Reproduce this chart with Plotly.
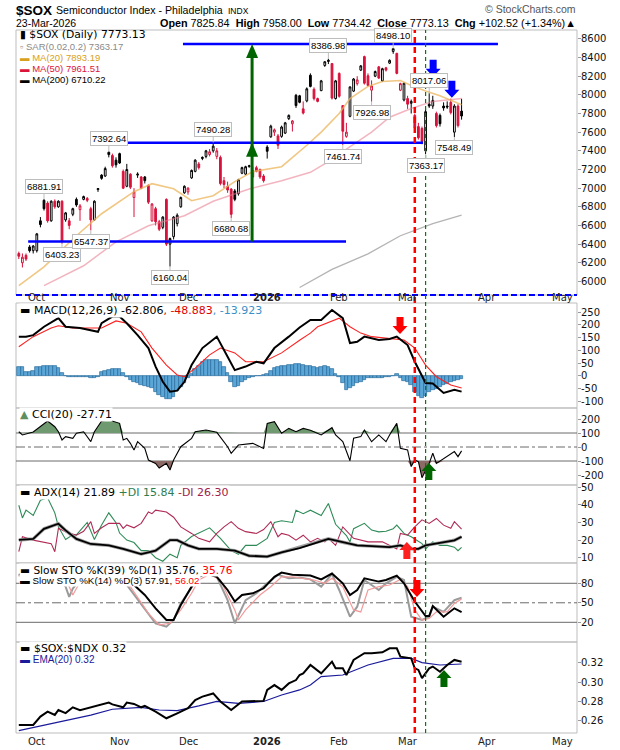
import plotly.graph_objects as go

# ---------------------------------------------------------------------------
# DATA   (x = trading-day index: 0 = 24-Sep-2025 ... 123 = 23-Mar-2026)
# ---------------------------------------------------------------------------
opens = [6300, 6200, 6280, 6370, 6330, 6330, 6650, 6870, 6840, 6650,
         6860, 6800, 6860, 6660, 6650, 6720, 6880, 6770, 6880, 6890,
         6780, 6660, 6985, 7140, 7130, 7385, 7350, 7300, 7370, 7180,
         7020, 7150, 6900, 7140, 7120, 7120, 7030, 6650, 6780, 6640,
         6580, 6880, 6400, 6480, 6620, 6800, 6950, 6960, 7110, 7180,
         7260, 7330, 7340, 7360, 7400, 7340, 7330, 7080, 7020, 6990,
         6970, 6940, 7160, 7150, 7230, 7120, 7220, 7200, 7130, 7440,
         7550, 7600, 7560, 7555, 7590, 7745, 7690, 7995, 7990, 7850,
         7935, 8210, 8060, 7960, 8045, 8315, 8370, 8335, 7960, 8230,
         7885, 7555, 7770, 8040, 8120, 8265, 8410, 8205, 8050, 8200,
         8300, 8150, 8290, 8340, 8465, 8445, 8050, 7945, 7960, 7910,
         7780, 7660, 7640, 7400, 7900, 7880, 7800, 7780, 7880, 7880,
         7920, 7600, 7880, 7825.84]
highs = [6320, 6300, 6300, 6390, 6390, 6520, 6690, 6881.91, 6860, 6870,
         6880, 6870, 6870, 6745, 6680, 6790, 6900, 6830, 6920, 6905,
         6800, 6870, 7000, 7150, 7230, 7392.64, 7370, 7330, 7380, 7200,
         7260, 7160, 7000, 7170, 7130, 7130, 7040, 6840, 6800, 6660,
         6700, 6890, 6470, 6700, 6730, 6910, 7030, 7010, 7200, 7310,
         7280, 7340, 7410, 7420, 7490.28, 7430, 7350, 7120, 7070, 7000,
         6990, 7100, 7230, 7240, 7250, 7230, 7240, 7210, 7150, 7460,
         7680, 7640, 7580, 7670, 7710, 7790, 7730, 8010, 8000, 7930,
         8080, 8230, 8080, 7970, 8160, 8360, 8386.98, 8340, 8160, 8240,
         7890, 7700, 8090, 8180, 8200, 8320, 8420, 8230, 8155, 8260,
         8310, 8290, 8300, 8380, 8498.10, 8450, 8130, 8130, 7990, 7950,
         7800, 7700, 7660, 7850, 8017.06, 7990, 7820, 7800, 7920, 7930,
         7960, 7900, 7900, 7958.00]
lows = [6240, 6150, 6220, 6310, 6300, 6310, 6580, 6760, 6630, 6640,
        6780, 6790, 6403.23, 6640, 6560, 6700, 6800, 6650, 6870, 6850,
        6547.37, 6650, 6960, 7090, 7120, 7330, 7220, 7220, 7260, 6990,
        7010, 6990, 6690, 7110, 6990, 7050, 6830, 6640, 6600, 6540,
        6560, 6380, 6160.04, 6450, 6590, 6790, 6940, 6930, 7100, 7170,
        7200, 7300, 7320, 7340, 7380, 7310, 7030, 7000, 6950, 6680.68,
        6860, 6920, 7150, 7140, 7220, 7110, 7170, 7100, 7060, 7317,
        7540, 7560, 7420, 7540, 7580, 7730, 7607, 7860, 7910, 7790,
        7920, 8080, 7940, 7920, 8040, 8300, 8330, 7950, 7950, 7970,
        7461.74, 7540, 7760, 8030, 8100, 8255, 8110, 8090, 7926.98, 8190,
        8170, 8140, 8250, 8330, 8440, 8220, 8040, 7930, 7850, 7800,
        7600, 7520, 7470, 7363.17, 7860, 7850, 7650, 7660, 7830, 7850,
        7790, 7548.49, 7650, 7734.42]
closes = [6270, 6260, 6240, 6330, 6380, 6510, 6610, 6780, 6650, 6860,
          6800, 6860, 6430, 6735, 6600, 6780, 6820, 6810, 6910, 6870,
          6660, 6860, 6995, 7105, 7210, 7360, 7240, 7250, 7270, 7000,
          7200, 7010, 6960, 7150, 7000, 7080, 6850, 6830, 6640, 6560,
          6690, 6400, 6460, 6690, 6710, 6900, 7020, 7000, 7190, 7300,
          7220, 7320, 7400, 7390, 7450, 7400, 7050, 7040, 6980, 6720,
          6880, 7090, 7220, 7230, 7240, 7190, 7180, 7120, 7080, 7395,
          7665, 7625, 7460, 7655, 7700, 7780, 7720, 7885, 7920, 7805,
          8065, 8090, 7960, 7930, 8150, 8355, 8360, 7965, 8150, 7985,
          7610, 7600, 8085, 8170, 8160, 8310, 8125, 8100, 8095, 8250,
          8180, 8280, 8265, 8370, 8495, 8230, 8120, 8125, 7900, 7930,
          7650, 7540, 7500, 7820, 7880, 7940, 7670, 7690, 7860, 7870,
          7810, 7880, 7670.61, 7773.13]
prior_close = 6290

ma20_day = [0, 7, 16, 23, 32, 37, 43, 48, 54, 60, 65, 73, 80, 84, 89, 92, 97, 101, 106, 109, 113, 117, 123]
ma20_val = [5955, 6157, 6490, 6726, 6962, 7048, 6994, 6866, 6919, 7070, 7177, 7230, 7460, 7600, 7800,
            7961, 8090, 8143, 8154, 8100, 8040, 7990, 7893.19]
ma50_day = [7, 18, 27, 36, 46, 54, 64, 73, 81, 86, 90, 98, 103, 109, 115, 123]
ma50_val = [5955, 6168, 6425, 6597, 6705, 6860, 6990, 7080, 7170, 7284, 7392, 7600, 7760, 7854, 7930, 7961.51]
ma200_day = [78, 87, 97, 106, 115, 123]
ma200_val = [5935, 6130, 6296, 6490, 6620, 6710.22]

macd_day = [0, 2, 4, 7, 11, 13, 17, 20, 22, 23, 26, 28, 30, 33, 36, 38, 40, 42, 44, 46, 48, 51, 55, 58,
            60, 63, 66, 68, 71, 75, 78, 81, 84, 87, 90, 92, 94, 96, 100, 103, 105, 108, 110, 113, 115,
            118, 121, 123]
macd_val = [154, 154, 160, 193, 227, 193, 188, 180, 173, 207, 233, 233, 207, 160, 109, 36, -24, -63, -59,
            -24, 42, 109, 154, 75, 22, 36, 55, 49, 109, 154, 190, 220, 220, 259, 227, 129, 134, 154, 141,
            145, 154, 121, 55, -29, -31, -68, -56, -62.806]
signal_day = [0, 4, 9, 11, 15, 20, 23, 27, 30, 34, 37, 41, 44, 46, 49, 53, 56, 60, 63, 68, 73, 78, 81,
              83, 89, 92, 95, 98, 103, 107, 110, 113, 116, 120, 123]
signal_val = [114, 154, 188, 197, 188, 188, 188, 216, 207, 173, 109, 42, 3, -4, 30, 82, 109, 90, 55, 55,
              90, 140, 168, 193, 227, 193, 168, 154, 148, 141, 109, 42, -4, -37, -48.883]
hist_val = [35, 35, 15, 15, 18, 33, 35, 37, 38, 38, 37, 30, 10, -3, -5, -6, -6, -7, -6, -6,
            -8, -10, -5, 15, 20, 22, 28, 28, 26, 10, -5, -15, -25, -30, -35, -40, -45, -50, -65, -75,
            -85, -90, -92, -85, -60, -45, -30, -10, 5, 25, 40, 55, 60, 62, 62, 60, 55, 35, 10, -25,
            -45, -40, -25, -15, -10, -5, 0, -3, 2, 5, 20, 30, 35, 38, 40, 42, 42, 45, 45, 42,
            40, 38, 35, 30, 35, 40, 35, 25, 8, -5, -30, -55, -50, -40, -30, -25, -18, -10, -8, -10,
            -10, -8, -5, -5, 0, 5, -10, -20, -25, -35, -65, -80, -88, -80, -65, -58, -52, -45, -38, -32,
            -26, -22, -18, -13.923]

cci_day = [0, 1, 4, 6, 8, 10, 11, 12, 13, 15, 16, 18, 19, 20, 21, 23, 25, 28, 29, 30, 31, 32, 33, 35,
           36, 38, 39, 41, 42, 43, 45, 48, 49, 52, 55, 58, 59, 61, 65, 68, 69, 71, 73, 75, 77, 79, 81,
           84, 87, 88, 90, 92, 93, 95, 96, 98, 100, 102, 103, 105, 106, 108, 109, 110, 111, 112, 114,
           115, 116, 118, 121, 122, 123]
cci_val = [109, 86, 107, 145, 186, 145, 109, 50, 74, 62, 98, 109, 74, 38, 109, 186, 193, 169, 50, 62,
           26, -21, 38, -10, -93, -117, -150, -117, -164, -93, 2, 62, 109, 121, 105, 2, -45, 14, 26,
           -10, 169, 181, 98, 133, 109, 133, 120, 86, 138, 86, 38, -98, 62, 74, 121, 38, 86, 38, 86,
           169, -10, -21, -140, -93, -105, -219, -117, -45, -117, -81, -33, -69, -27.71]

adx_day = [0, 4, 7, 11, 13, 16, 20, 25, 29, 34, 38, 42, 44, 47, 50, 55, 60, 64, 69, 73, 78, 83, 86,
           90, 94, 98, 103, 106, 109, 111, 113, 117, 121, 123]
adx_val = [20.1, 20.7, 26.4, 29.3, 25.5, 20.7, 17.8, 17, 15, 12.1, 14, 20, 20, 17, 15, 15, 14, 11.1,
           10.6, 13, 15.5, 18.8, 20.7, 18.8, 17, 16.6, 16, 17, 15, 15, 17, 18.4, 19.9, 21.89]
pdi_day = [0, 1, 2, 4, 6, 8, 10, 11, 13, 15, 16, 19, 21, 23, 25, 27, 28, 30, 32, 34, 36, 38, 40, 42,
           44, 45, 48, 50, 53, 56, 59, 61, 63, 66, 69, 71, 73, 76, 77, 79, 81, 84, 86, 88, 91, 92, 93,
           96, 98, 100, 102, 104, 105, 107, 109, 112, 113, 115, 117, 119, 121, 122, 123]
pdi_val = [39.8, 32.6, 37, 34, 42.6, 44, 35.5, 27.5, 20.3, 23, 23, 30, 20.3, 28.6, 35.5, 29.9, 24, 20,
           18.6, 14, 14, 10, 8, 12, 10, 17, 22, 24, 27, 21, 14, 12, 17, 17, 21, 30, 31, 30, 37, 35, 37,
           34, 40.8, 29, 22.6, 19, 26.5, 29.5, 25.7, 24.7, 25, 26.5, 28.5, 23.8, 21.9, 18, 15, 19, 17,
           17, 16, 14, 15.84]
mdi_day = [0, 1, 4, 7, 9, 10, 11, 13, 16, 18, 20, 21, 23, 25, 28, 29, 30, 32, 34, 36, 37, 38, 41, 43,
           45, 48, 50, 53, 55, 57, 59, 61, 63, 66, 68, 70, 72, 73, 75, 77, 79, 81, 83, 85, 86, 88, 90,
           93, 97, 101, 105, 106, 108, 110, 112, 114, 116, 118, 120, 121, 123]
mdi_val = [13.4, 21.9, 20, 19, 18, 13.4, 26.7, 24.8, 22.8, 25, 30.5, 23.8, 27, 29.5, 29.5, 26.7, 28.6,
           27, 29.5, 36, 35, 37, 36, 33, 27.5, 23.8, 21, 19, 23.8, 27.5, 30.5, 26.7, 24.8, 23.8, 26,
           30.5, 21.9, 23.8, 22.8, 20, 22.8, 19, 21, 19, 21, 17, 27.5, 21, 19, 19, 15, 23.8, 22.8,
           27.5, 31.5, 29.5, 32.3, 28.5, 26.7, 30.5, 26.3]

sto39_day = [0, 5, 10, 15, 20, 25, 30, 35, 38, 41, 43, 45, 48, 50, 52, 55, 58, 60, 62, 65, 68, 71, 73,
             76, 78, 81, 84, 87, 90, 92, 94, 96, 100, 102, 105, 107, 110, 113, 114, 115, 118, 121, 123]
sto39_val = [93, 94, 92, 92, 93, 94, 87.7, 62, 41.5, 23.5, 23.5, 46.6, 74.8, 90, 95, 90, 69.7, 52, 62,
             64.6, 72.3, 90, 96.4, 93, 93, 92, 86, 95, 80, 62, 69.7, 87.7, 82.6, 85, 91.7, 80, 52,
             29.7, 29.7, 45, 28.6, 41.5, 35.76]
sto14k_day = [0, 5, 10, 13, 14, 15, 18, 24, 30, 36, 38, 41, 43, 45, 48, 50, 52, 55, 58, 60, 63, 66, 69,
              72, 75, 78, 81, 84, 87, 89, 92, 94, 96, 100, 102, 105, 107, 109, 112, 114, 115, 118,
              121, 123]
sto14k_val = [92, 93, 92, 74.8, 59, 72, 92, 93, 77.4, 33.8, 18.5, 13.3, 23.5, 49, 74.8, 90, 96, 90, 54,
              18.5, 54, 64.6, 80, 93, 87.7, 89, 86, 74.8, 94, 69.7, 28.6, 44, 85, 69.7, 80, 90, 85,
              28.6, 23.5, 28.6, 44, 36, 54, 57.91]
sto14d_day = [0, 5, 10, 12, 14, 15, 16, 18, 25, 31, 36, 39, 42, 45, 48, 50, 53, 56, 60, 61, 63, 67, 70,
              73, 76, 81, 82, 85, 87, 90, 93, 95, 97, 100, 103, 106, 108, 110, 112, 114, 116, 119,
              121, 123]
sto14d_val = [91, 92, 91, 90, 74.8, 62, 72, 90, 92, 74.8, 33.8, 15.9, 18.5, 39, 64.6, 85, 94, 85, 39,
              23.5, 39, 62, 74.8, 90, 90, 85, 85, 80, 87.7, 74.8, 39, 36, 69.7, 74.8, 77.4, 86, 74.8,
              39, 23.5, 26, 36, 36, 49, 56.02]

ratio_day = [0, 4, 6, 8, 10, 11, 13, 15, 17, 20, 22, 25, 26, 29, 30, 32, 34, 35, 38, 41, 44, 47, 49,
             51, 54, 56, 59, 61, 62, 68, 69, 71, 73, 75, 77, 78, 79, 81, 84, 87, 88, 90, 91, 93, 96,
             98, 101, 103, 105, 106, 109, 110, 111, 112, 114, 115, 117, 119, 121, 123]
ratio_val = [0.2558, 0.2558, 0.2644, 0.2695, 0.2661, 0.2712, 0.268, 0.274, 0.271, 0.274, 0.2755,
             0.2788, 0.277, 0.274, 0.2788, 0.2775, 0.274, 0.2755, 0.2695, 0.2627, 0.2678, 0.273,
             0.2815, 0.285, 0.2883, 0.28, 0.2712, 0.2775, 0.28, 0.2806, 0.2919, 0.2969, 0.2919,
             0.2986, 0.3021, 0.3073, 0.309, 0.3176, 0.309, 0.321, 0.3142, 0.3142, 0.3073, 0.3228,
             0.3297, 0.3297, 0.3307, 0.3348, 0.3348, 0.3262, 0.3245, 0.3142, 0.3125, 0.304, 0.3142,
             0.316, 0.3107, 0.3176, 0.3228, 0.321]
ema_day = [0, 7, 13, 20, 26, 34, 39, 44, 50, 55, 61, 68, 73, 78, 81, 84, 90, 97, 104, 109, 112, 117, 123]
ema_val = [0.2499, 0.2558, 0.2609, 0.266, 0.272, 0.274, 0.2712, 0.2706, 0.2754, 0.28, 0.278, 0.28,
           0.2867, 0.2919, 0.297, 0.3056, 0.3073, 0.3176, 0.3245, 0.3245, 0.32, 0.3176, 0.3186]

month_day = [5, 28, 47, 69, 89, 108, 130, 151]
month_text = ["Oct", "Nov", "Dec", "<b>2026</b>", "Feb", "Mar", "Apr", "May"]

mark_day = [86, 104, 114, 25, 54, 7, 98, 121, 90, 113, 12, 20, 42, 59]
mark_val = [8386.98, 8498.10, 8017.06, 7392.64, 7490.28, 6881.91,
            7926.98, 7548.49, 7461.74, 7363.17, 6403.23, 6547.37, 6160.04, 6680.68]
mark_is_high = [True] * 6 + [False] * 8

# user-drawn annotations
hline_day0 = [45.6, 24.8, 2.6]
hline_day1 = [133.1, 112.3, 90.9]
hline_val = [8546, 7488, 6428]
target_day = 64.8
vline_day = [110, 113]
arrow_day = [115.1, 120.3, 105.9, 113.9, 107.8, 110.6, 118.1]
arrow_val = [8195, 7968, 164, -114, 18.9, 58.9, 0.3125]
arrow_axis = ["y", "y", "y2", "y3", "y4", "y5", "y6"]
arrow_dir = ["down", "down", "down", "up", "up", "down", "up"]
arrow_col = ["#0000ff", "#0000ff", "#ff0000", "#006400", "#ff2020", "#ff0000", "#006400"]

# ---------------------------------------------------------------------------
# LAYOUT HELPERS
# ---------------------------------------------------------------------------
W, H = 620, 750
ML, MR, MT, MB = 16, 43, 30, 17


def fx(xp):
    return (xp - ML) / (W - ML - MR)


def fy(yp):
    return (H - MB - yp) / (H - MT - MB)


X_RANGE = [-0.78, 155.06]
panels = {
    "y": (30, 295, [5855, 8695], [6000 + 200 * k for k in range(14)], "{:.0f}"),
    "y2": (303, 408, [-127.4, 286.7], [-100, -50, 0, 50, 100, 150, 200, 250], "{:.0f}"),
    "y3": (408, 485, [-271.4, 278.6], [-200, -100, 0, 100, 200], "{:.0f}"),
    "y4": (485, 563, [7.0, 51.3], [10, 20, 30, 40, 50], "{:.0f}"),
    "y5": (563, 642, [-10.3, 111.2], [20, 50, 80], "{:.0f}"),
    "y6": (642, 733, [0.2475, 0.3413], [0.26, 0.28, 0.30, 0.32], "{:.2f}"),
}

fig = go.Figure()
n = len(closes)
days = list(range(n))
RED = "#d8123c"


def line(xs, ys, axis, color, width, **kw):
    fig.add_trace(go.Scatter(x=xs, y=ys, yaxis=axis, mode="lines",
                             line=dict(color=color, width=width, **kw),
                             hoverinfo="skip", showlegend=False))


# ---- main panel ----
line(ma200_day, ma200_val, "y", "#b4b4b4", 1.3)
line(ma50_day, ma50_val, "y", "rgba(232,120,140,0.55)", 1.5)
line(ma20_day, ma20_val, "y", "rgba(235,180,90,0.75)", 1.6)

prev = [prior_close] + closes[:-1]
up = [k for k in days if closes[k] >= prev[k]]
dn = [k for k in days if closes[k] < prev[k]]


def pick(a, idx):
    return [a[k] for k in idx]


for idx, col in ((up, "#000000"), (dn, RED)):
    fig.add_trace(go.Candlestick(
        x=idx, open=pick(opens, idx), high=pick(highs, idx), low=pick(lows, idx),
        close=pick(closes, idx), yaxis="y",
        increasing=dict(line=dict(color=col, width=1), fillcolor="#ffffff"),
        decreasing=dict(line=dict(color=col, width=1), fillcolor=col),
        whiskerwidth=0, hoverinfo="skip", showlegend=False))

# ---- MACD ----
fig.add_trace(go.Bar(x=days, y=hist_val, yaxis="y2", width=1.0,
                     marker=dict(color="#5aa6d6", line=dict(color="#2a6c9c", width=0.7)),
                     hoverinfo="skip", showlegend=False))
line(signal_day, signal_val, "y2", "#ff2020", 1.1)
line(macd_day, macd_val, "y2", "#000000", 2.0)

# ---- CCI ----
cci_hi = [max(v, 100) for v in cci_val]
cci_lo = [min(v, -100) for v in cci_val]
line(cci_day, [100] * len(cci_day), "y3", "rgba(0,0,0,0)", 0)
fig.add_trace(go.Scatter(x=cci_day, y=cci_hi, yaxis="y3", mode="lines", fill="tonexty",
                         fillcolor="#6f9a6f", line=dict(width=0), hoverinfo="skip", showlegend=False))
line(cci_day, [-100] * len(cci_day), "y3", "rgba(0,0,0,0)", 0)
fig.add_trace(go.Scatter(x=cci_day, y=cci_lo, yaxis="y3", mode="lines", fill="tonexty",
                         fillcolor="#8c6a66", line=dict(width=0), hoverinfo="skip", showlegend=False))
line(cci_day, cci_val, "y3", "#000000", 1.1)

# ---- ADX ----
line(pdi_day, pdi_val, "y4", "#2e8b57", 1.1)
line(mdi_day, mdi_val, "y4", "#b02a55", 1.1)
line(adx_day, adx_val, "y4", "#a0a0a0", 3.4)
line(adx_day, adx_val, "y4", "#000000", 1.8)

# ---- Slow STO ----
line(sto14k_day, sto14k_val, "y5", "#9a9a9a", 2.0)
line(sto14d_day, sto14d_val, "y5", "#f29a9a", 1.2)
line(sto39_day, sto39_val, "y5", "#000000", 2.0)

# ---- ratio ----
line(ema_day, ema_val, "y6", "#1a1a9a", 1.2)
line(ratio_day, ratio_val, "y6", "#000000", 2.0)

# ---------------------------------------------------------------------------
# AXES
# ---------------------------------------------------------------------------
lay = dict(
    width=W, height=H, margin=dict(l=ML, r=MR, t=MT, b=MB),
    paper_bgcolor="#ffffff", plot_bgcolor="#ffffff",
    font=dict(family="DejaVu Sans", size=10, color="#222"),
    showlegend=False, bargap=0,
    xaxis=dict(domain=[0, 1], range=X_RANGE, anchor="y6", showticklabels=False,
               showgrid=False, zeroline=False, ticks="", rangeslider=dict(visible=False),
               fixedrange=True),
)
for key, (top, bot, rng, tv, fmt) in panels.items():
    name = "yaxis" if key == "y" else "yaxis" + key[1:]
    lay[name] = dict(domain=[fy(bot), fy(top)], range=rng, autorange=False, anchor="x",
                     side="right", showgrid=False, zeroline=False, tickvals=tv, ticks="outside",
                     ticklen=3, tickcolor="#999999", showticklabels=False, showline=False,
                     fixedrange=True)
fig.update_layout(**lay)

# ---------------------------------------------------------------------------
# SHAPES
# ---------------------------------------------------------------------------
shapes = []
for key, (top, bot, rng, tv, fmt) in panels.items():
    shapes.append(dict(type="rect", xref="paper", yref="paper", x0=0, x1=1,
                       y0=fy(bot), y1=fy(top), line=dict(color="#bdbdbd", width=1), layer="below"))
shapes.append(dict(type="line", xref="paper", yref="paper", x0=0, x1=1, y0=fy(295), y1=fy(295),
                   line=dict(color="#0000ff", width=2, dash="6px,3px")))
for lv, ds in ((100, "solid"), (-100, "solid"), (0, "dashdot")):
    shapes.append(dict(type="line", xref="paper", yref="y3", x0=0, x1=1, y0=lv, y1=lv,
                       line=dict(color="#6a6a6a", width=1, dash=ds), layer="below"))
for lv, ds in ((80, "solid"), (20, "solid"), (50, "dashdot")):
    shapes.append(dict(type="line", xref="paper", yref="y5", x0=0, x1=1, y0=lv, y1=lv,
                       line=dict(color="#6a6a6a", width=1, dash=ds), layer="below"))
for d0, d1, lv in zip(hline_day0, hline_day1, hline_val):
    shapes.append(dict(type="line", xref="x", yref="y", x0=d0, x1=d1, y0=lv, y1=lv,
                       line=dict(color="#0000ff", width=2.5)))
shapes.append(dict(type="line", xref="x", yref="y", x0=target_day, x1=target_day,
                   y0=hline_val[2], y1=hline_val[0] - 60, line=dict(color="#006400", width=3)))
for lv in (hline_val[1], hline_val[0]):
    shapes.append(dict(type="path", xref="x", yref="y", xsizemode="pixel", ysizemode="pixel",
                       xanchor=target_day, yanchor=lv, path="M -6,-14 L 6,-14 L 0,0 Z",
                       fillcolor="#006400", line=dict(width=0)))
shapes.append(dict(type="line", xref="x", yref="paper", x0=vline_day[0], x1=vline_day[0], y0=0, y1=1,
                   line=dict(color="#ff0000", width=2.5, dash="6px,4px")))
shapes.append(dict(type="line", xref="x", yref="paper", x0=vline_day[1], x1=vline_day[1], y0=0, y1=1,
                   line=dict(color="#008000", width=1.2, dash="4px,3px")))
for d, v, ax, dr, col in zip(arrow_day, arrow_val, arrow_axis, arrow_dir, arrow_col):
    s = 1 if dr == "down" else -1
    p = (f"M -3.5,{17*s} L 3.5,{17*s} L 3.5,{8*s} L 7.5,{8*s} L 0,0 "
         f"L -7.5,{8*s} L -3.5,{8*s} Z")
    shapes.append(dict(type="path", xref="x", yref=ax, xsizemode="pixel", ysizemode="pixel",
                       xanchor=d, yanchor=v, path=p, fillcolor=col, line=dict(width=0)))
fig.update_layout(shapes=shapes)

# ---------------------------------------------------------------------------
# TEXT
# ---------------------------------------------------------------------------
ann = []


def text(xp, yp, s, size=10, color="#000", family="Liberation Sans", xanchor="left", bg=None):
    d = dict(x=fx(xp), y=fy(yp), xref="paper", yref="paper", text=s, showarrow=False,
             xanchor=xanchor, yanchor="middle", font=dict(size=size, color=color, family=family),
             borderpad=0)
    if bg:
        d["bgcolor"] = bg
    ann.append(d)


text(15, 10, "<b>$SOX</b>", 13.5)
text(55, 10.5, "Semiconductor Index - Philadelphia", 10.6)
text(227, 11.5, "INDX", 8.5)
text(15, 22.5, "23-Mar-2026", 10.5)
text(577, 22.5, "<b>Open</b> 7825.84  <b>High</b> 7958.00  <b>Low</b> 7734.42  "
                "<b>Close</b> 7773.13  <b>Chg</b> +102.52 (+1.34%)▲", 10.8, xanchor="right")
text(577, 9, "© StockCharts.com", 10.5, color="#555", xanchor="right")

text(19, 35, "▮ $SOX (Daily) 7773.13", 10.8, family="DejaVu Sans")
text(19, 46.5, "▫ SAR(0.02,0.2) 7363.17", 9.5, color="#8a8a8a")
text(19, 57.5, "▬ MA(20) 7893.19", 9.5, color="#d9a020")
text(19, 68.5, "▬ MA(50) 7961.51", 9.5, color="#dc143c")
text(19, 79.5, "▬ MA(200) 6710.22", 9.5, color="#000")

text(19, 310, '▬ MACD(12,26,9) -62.806<span style="color:#e00000">, -48.883</span>'
              '<span style="color:#3a90c8">, -13.923</span>', 11, family="DejaVu Sans", bg="#fff")
text(19, 414, '<span style="color:#5f8f5f">▲</span> CCI(20) -27.71', 11, family="DejaVu Sans", bg="#fff")
text(19, 492.5, '▬ ADX(14) 21.89 <span style="color:#2e7d4f">+DI 15.84</span> '
                '<span style="color:#a0224a">-DI 26.30</span>', 11, family="DejaVu Sans", bg="#fff")
text(19, 569.5, '▬ Slow STO %K(39) %D(1) 35.76, <span style="color:#ff0000">35.76</span>', 10.6,
     family="DejaVu Sans", bg="#fff")
text(19, 580.5, '▬ Slow STO %K(14) %D(3) 57.91, <span style="color:#ff0000">56.02</span>', 9.8,
     bg="#fff")
text(19, 648, "▬ $SOX:$NDX 0.32", 11, family="DejaVu Sans", bg="#fff")
text(19, 659.5, "▬ EMA(20) 0.32", 10, color="#1a1a9a", bg="#fff")

for d, t in zip(month_day, month_text):
    for yp in (297, 741):
        ann.append(dict(x=d, y=fy(yp), xref="x", yref="paper", text=t, showarrow=False,
                        xanchor="center", yanchor="middle",
                        font=dict(size=10, color="#222", family="DejaVu Sans")))

for d, v, hi in zip(mark_day, mark_val, mark_is_high):
    ann.append(dict(x=d, y=v, xref="x", yref="y", text=f"{v:.2f}", showarrow=True,
                    arrowhead=0, arrowwidth=1, arrowcolor="#bdbdbd", ax=0, ay=-13 if hi else 11,
                    bgcolor="#ffffff", bordercolor="#bdbdbd", borderwidth=1, borderpad=1,
                    font=dict(size=9.5, color="#000", family="Liberation Sans")))

# right-hand axis tick labels (drawn last, on top), each value through its panel's linear scale
for key, (top, bot, rng, tv, fmt) in panels.items():
    for v in tv:
        yp = top + (rng[1] - v) / (rng[1] - rng[0]) * (bot - top)
        text(580, yp, fmt.format(v), 10, color="#111", family="DejaVu Sans")

fig.update_layout(annotations=ann)
fig.write_html("out.html", config={"displayModeBar": False},
               post_script="document.body.style.margin='0';")
